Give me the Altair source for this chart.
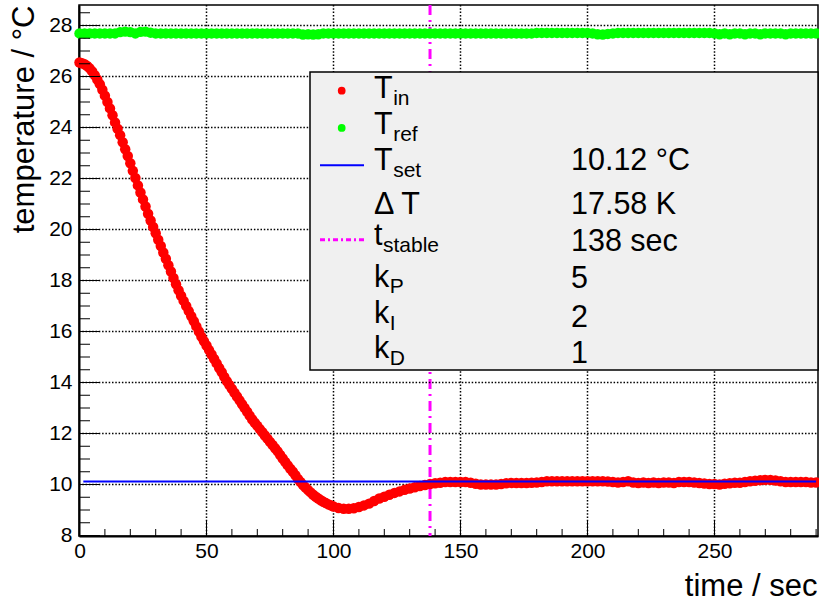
import altair as alt
import pandas as pd

# ---------------- data ----------------
time_in = list(range(0, 100)) + list(range(100, 291, 2))
temp_in = [
    26.55, 26.52, 26.48, 26.41, 26.32, 26.20, 26.05, 25.88, 25.70, 25.48,
    25.25, 25.00, 24.75, 24.48, 24.20, 23.95, 23.70, 23.42, 23.15, 22.88,
    22.60, 22.30, 22.02, 21.73, 21.45, 21.18, 20.90, 20.62, 20.35, 20.10,
    19.85, 19.60, 19.35, 19.10, 18.85, 18.60, 18.35, 18.10, 17.85, 17.62,
    17.40, 17.20, 17.00, 16.80, 16.60, 16.40, 16.20, 16.00, 15.80, 15.62,
    15.45, 15.27, 15.10, 14.92, 14.75, 14.57, 14.40, 14.22, 14.05, 13.90,
    13.75, 13.60, 13.45, 13.30, 13.15, 13.00, 12.85, 12.70, 12.55, 12.42,
    12.30, 12.17, 12.05, 11.92, 11.80, 11.67, 11.55, 11.42, 11.30, 11.16,
    11.02, 10.88, 10.75, 10.62, 10.50, 10.36, 10.22, 10.10, 9.98, 9.88,
    9.78, 9.69, 9.60, 9.52, 9.45, 9.38, 9.32, 9.27, 9.22, 9.18,
    # from t = 100 s, every 2 s
    9.14, 9.08, 9.05, 9.05, 9.07, 9.12, 9.18, 9.25, 9.35, 9.45,
    9.52, 9.60, 9.67, 9.73, 9.79, 9.84, 9.89, 9.94, 9.98, 10.02,
    10.05, 10.07, 10.10, 10.10, 10.10, 10.10, 10.10, 10.07, 10.03, 10.00,
    10.00, 10.00, 10.00, 10.02, 10.05, 10.06, 10.06, 10.06, 10.06, 10.07,
    10.08, 10.10, 10.13, 10.13, 10.13, 10.13, 10.13, 10.13, 10.13, 10.13,
    10.13, 10.13, 10.13, 10.13, 10.12, 10.10, 10.08, 10.10, 10.13, 10.08,
    10.06, 10.08, 10.06, 10.08, 10.06, 10.08, 10.08, 10.06, 10.10, 10.10,
    10.10, 10.08, 10.06, 10.04, 10.02, 10.02, 10.00, 10.03, 10.05, 10.07,
    10.07, 10.10, 10.13, 10.15, 10.17, 10.18, 10.18, 10.16, 10.13, 10.10,
    10.10, 10.10, 10.10, 10.10, 10.08, 10.08,
]

time_ref = list(range(0, 291, 2))
temp_ref = [
    27.69, 27.69, 27.69, 27.69, 27.69, 27.69, 27.69, 27.69, 27.74, 27.76,
    27.74, 27.69, 27.75, 27.76, 27.72, 27.69, 27.69, 27.69, 27.69, 27.69,
    27.69, 27.69, 27.69, 27.69, 27.69, 27.69, 27.69, 27.69, 27.69, 27.69,
    27.69, 27.69, 27.69, 27.69, 27.69, 27.69, 27.69, 27.69, 27.69, 27.69,
    27.69, 27.69, 27.69, 27.69, 27.65, 27.66, 27.65, 27.66, 27.69, 27.69,
    27.69, 27.69, 27.69, 27.69, 27.69, 27.69, 27.69, 27.69, 27.69, 27.69,
    27.69, 27.69, 27.69, 27.69, 27.69, 27.69, 27.69, 27.69, 27.69, 27.69,
    27.69, 27.69, 27.69, 27.69, 27.69, 27.69, 27.69, 27.69, 27.69, 27.69,
    27.69, 27.69, 27.69, 27.69, 27.69, 27.69, 27.69, 27.69, 27.69, 27.69,
    27.71, 27.71, 27.71, 27.71, 27.71, 27.71, 27.71, 27.71, 27.71, 27.71,
    27.71, 27.69, 27.66, 27.65, 27.67, 27.69, 27.71, 27.71, 27.71, 27.71,
    27.71, 27.71, 27.71, 27.71, 27.71, 27.71, 27.71, 27.71, 27.71, 27.71,
    27.71, 27.71, 27.71, 27.71, 27.71, 27.69, 27.66, 27.69, 27.66, 27.69,
    27.69, 27.66, 27.69, 27.69, 27.66, 27.69, 27.69, 27.69, 27.69, 27.66,
    27.69, 27.69, 27.69, 27.69, 27.69, 27.69,
]

T_SET = 10.12
T_SET_START = 1.5
T_END = 290
T_STABLE = 138

x_major = [0, 50, 100, 150, 200, 250]
x_minor = [v for v in range(10, 291, 10) if v % 50 != 0]
y_major = [8, 10, 12, 14, 16, 18, 20, 22, 24, 26, 28]
y_minor = [8.5 + i for i in range(0, 21)] + [9 + 2 * i for i in range(0, 10)]

leg_main = ["T", "T", "T", "\u0394 T", "t", "k", "k", "k"]
leg_sub = ["in", "ref", "set", "", "stable", "P", "I", "D"]
leg_val = ["", "", "10.12 \u00b0C", "17.58 K", "138 sec", "5", "2", "1"]

# ---------------- layout / style ----------------
W, H = 739, 531
PX_PER_SEC, PX_PER_DEG = 2.54, 25.5
X_DOMAIN = [-0.5 / PX_PER_SEC, (W - 0.5) / PX_PER_SEC]
Y_DOMAIN = [8 - 0.5 / PX_PER_DEG, 8 + (H - 0.5) / PX_PER_DEG]

FONT = "Liberation Sans"
LEG_X0, LEG_X1, LEG_Y0, LEG_Y1 = 231, 739, 67, 365
ROW_H = (LEG_Y1 - LEG_Y0) / 8
MARK_X = 262.7
LINE_X0, LINE_X1 = 241, 285
TEXT_X = 295
VAL_X = 492
FS_MAIN, FS_SUB = 30.5, 21
ADV = {"T": 0.611, "t": 0.278, "k": 0.5, "\u0394 T": 1.55}
main_dy = [7.7, 6.1, 4.9, 11.6, 5.4, 9.8, 9.0, 7.0]
val_dy = [0, 0, 4.9, 11.6, 11.1, 11.1, 12.6, 11.9]
SUB_DY = 6.7
GRID_DASH = [1.5, 1.8]

xs = alt.Scale(domain=X_DOMAIN, nice=False, zero=False)
ys = alt.Scale(domain=Y_DOMAIN, nice=False, zero=False)

df_in = pd.DataFrame({"t": time_in, "T": temp_in})
df_ref = pd.DataFrame({"t": time_ref, "T": temp_ref})

x_axis = alt.Axis(
    values=x_major, title="time / sec", grid=False, ticks=False, tickSize=0,
    labelFontSize=21, labelFont=FONT, labelColor="black", labelPadding=4,
    labelFlush=False, domain=True, domainColor="black", domainWidth=2,
    titleFontSize=31, titleFont=FONT, titleFontWeight="normal", titleColor="black",
    titleX=738, titleY=59, titleAlign="right", titleBaseline="alphabetic",
)
y_axis = alt.Axis(
    values=y_major, title="temperature / \u00b0C", grid=False, ticks=False, tickSize=0,
    labelFontSize=21, labelFont=FONT, labelColor="black", labelPadding=7,
    labelFlush=False, domain=True, domainColor="black", domainWidth=2,
    titleFontSize=31, titleFont=FONT, titleFontWeight="normal", titleColor="black",
    titleX=-46, titleY=0, titleAlign="right", titleBaseline="alphabetic", titleAngle=270,
)


def X(field):
    return alt.X(field, scale=xs, axis=x_axis)


def Y(field):
    return alt.Y(field, scale=ys, axis=y_axis)


# dotted grid at major ticks
x_grid = alt.Chart(pd.DataFrame({"gx": x_major[1:]})).mark_rule(
    color="black", strokeWidth=1.5, strokeDash=GRID_DASH
).encode(x=X("gx:Q"), y=alt.value(0), y2=alt.value(H))
y_grid = alt.Chart(pd.DataFrame({"gy": y_major[1:]})).mark_rule(
    color="black", strokeWidth=1.5, strokeDash=GRID_DASH
).encode(y=Y("gy:Q"), x=alt.value(0), x2=alt.value(W))

red = alt.Chart(df_in).mark_circle(size=110, color="#ff0000", opacity=1).encode(
    x=X("t:Q"), y=Y("T:Q"))
green = alt.Chart(df_ref).mark_circle(size=110, color="#00ff00", opacity=1).encode(
    x=X("t:Q"), y=Y("T:Q"))
set_line = alt.Chart(pd.DataFrame({"t": [T_SET_START], "t2": [T_END], "T": [T_SET]})).mark_rule(
    color="#0000ff", strokeWidth=2
).encode(x=X("t:Q"), x2="t2:Q", y=Y("T:Q"))
stable_line = alt.Chart(pd.DataFrame({"t": [T_STABLE]})).mark_rule(
    color="#ff00ff", strokeWidth=3, strokeDash=[10, 5, 2, 5]
).encode(x=X("t:Q"), y=alt.value(0), y2=alt.value(H))

# inward ticks (ROOT style)
xt_major = alt.Chart(pd.DataFrame({"t": x_major})).mark_rule(color="black", strokeWidth=1).encode(
    x=X("t:Q"), y=alt.value(H), y2=alt.value(H - 16))
xt_minor = alt.Chart(pd.DataFrame({"t": x_minor})).mark_rule(color="black", strokeWidth=1).encode(
    x=X("t:Q"), y=alt.value(H), y2=alt.value(H - 7))
yt_major = alt.Chart(pd.DataFrame({"T": y_major})).mark_rule(color="black", strokeWidth=1).encode(
    y=Y("T:Q"), x=alt.value(0), x2=alt.value(21))
yt_minor = alt.Chart(pd.DataFrame({"T": y_minor})).mark_rule(color="black", strokeWidth=1).encode(
    y=Y("T:Q"), x=alt.value(0), x2=alt.value(11))

# ---------------- legend (pixel-positioned) ----------------
centers = [LEG_Y0 + ROW_H * (i + 0.5) for i in range(8)]
leg_box = alt.Chart(pd.DataFrame({"a": [0]})).mark_rect(
    fill="#f0f0f0", stroke="black", strokeWidth=1.5
).encode(x=alt.value(LEG_X0), x2=alt.value(LEG_X1), y=alt.value(LEG_Y0), y2=alt.value(LEG_Y1))

leg_df = pd.DataFrame({
    "main": leg_main, "sub": leg_sub, "val": leg_val,
    "mx": [TEXT_X] * 8,
    "my": [c + d for c, d in zip(centers, main_dy)],
    "sx": [TEXT_X + ADV.get(m, 0.6) * FS_MAIN + 0.5 for m in leg_main],
    "sy": [c + d + SUB_DY for c, d in zip(centers, main_dy)],
    "vx": [VAL_X] * 8,
    "vy": [c + d for c, d in zip(centers, val_dy)],
})
txt_main = alt.Chart(leg_df).mark_text(
    font=FONT, fontSize=FS_MAIN, align="left", baseline="alphabetic", color="black"
).encode(x=alt.X("mx:Q", scale=None, axis=None), y=alt.Y("my:Q", scale=None, axis=None), text="main:N")
txt_sub = alt.Chart(leg_df).mark_text(
    font=FONT, fontSize=FS_SUB, align="left", baseline="alphabetic", color="black"
).encode(x=alt.X("sx:Q", scale=None, axis=None), y=alt.Y("sy:Q", scale=None, axis=None), text="sub:N")
txt_val = alt.Chart(leg_df).mark_text(
    font=FONT, fontSize=FS_MAIN, align="left", baseline="alphabetic", color="black"
).encode(x=alt.X("vx:Q", scale=None, axis=None), y=alt.Y("vy:Q", scale=None, axis=None), text="val:N")

leg_pts = alt.Chart(pd.DataFrame({
    "px": [MARK_X, MARK_X], "py": [centers[0], centers[1]], "c": ["#ff0000", "#00ff00"]
})).mark_circle(size=60, opacity=1).encode(
    x=alt.X("px:Q", scale=None, axis=None), y=alt.Y("py:Q", scale=None, axis=None),
    color=alt.Color("c:N", scale=None),
)
leg_blue = alt.Chart(pd.DataFrame({"a": [0]})).mark_rule(color="#0000ff", strokeWidth=2).encode(
    x=alt.value(LINE_X0), x2=alt.value(LINE_X1), y=alt.value(centers[2]))
leg_mag = alt.Chart(pd.DataFrame({"a": [0]})).mark_rule(
    color="#ff00ff", strokeWidth=3, strokeDash=[5, 3, 2, 3]).encode(
    x=alt.value(LINE_X0), x2=alt.value(LINE_X1), y=alt.value(centers[4]))

chart = alt.layer(
    stable_line, x_grid, y_grid, green, red, set_line,
    leg_box, leg_pts, leg_blue, leg_mag, txt_main, txt_sub, txt_val,
    xt_major, xt_minor, yt_major, yt_minor,
).properties(
    width=W, height=H,
    autosize=alt.AutoSizeParams(type="none"),
    padding={"left": 79, "top": 5, "right": 1, "bottom": 65},
    background="white",
).configure_view(stroke="black", strokeWidth=1.5)

chart.save("out.html", embed_options={"renderer": "svg", "actions": False})
